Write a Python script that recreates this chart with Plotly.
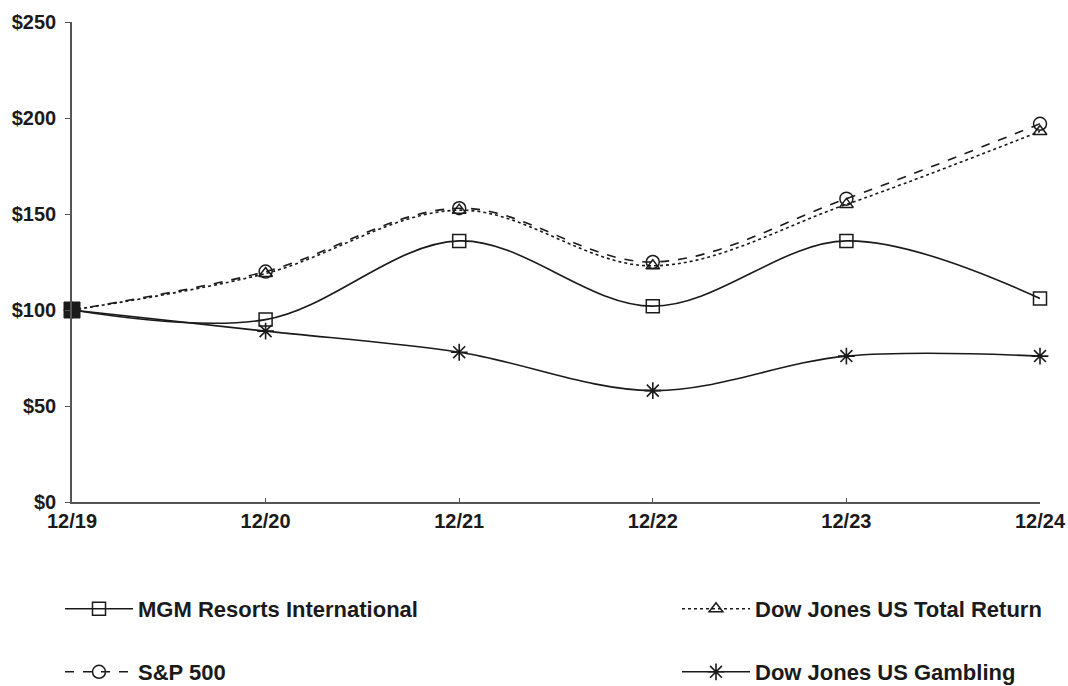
import plotly.graph_objects as go

periods = ["12/19", "12/20", "12/21", "12/22", "12/23", "12/24"]
mgm = [100, 95, 136, 102, 136, 106]
sp500 = [100, 120, 153, 125, 158, 197]
dj_total = [100, 119, 152, 123, 155, 193]
dj_gambling = [100, 89, 78, 58, 76, 76]
y_ticks = [0, 50, 100, 150, 200, 250]
y_tick_labels = ["$0", "$50", "$100", "$150", "$200", "$250"]

ink = "#1a1a1a"
FONT = "Liberation Sans, Arial, sans-serif"

fig = go.Figure()

fig.add_trace(go.Scatter(
    x=periods, y=dj_gambling, name="Dow Jones US Gambling", legend="legend4",
    mode="lines+markers", line=dict(color=ink, width=1.6, shape="spline"), cliponaxis=False,
    marker=dict(symbol="asterisk-open", size=14, line=dict(color=ink, width=1.6)),
))
fig.add_trace(go.Scatter(
    x=periods, y=dj_total, name="Dow Jones US Total Return", legend="legend2",
    mode="lines+markers", line=dict(color=ink, width=1.6, shape="spline", dash="dot"), cliponaxis=False,
    marker=dict(symbol="triangle-up-open", size=12, color=ink, line=dict(color=ink, width=1.5)),
))
fig.add_trace(go.Scatter(
    x=periods, y=sp500, name="S&P 500", legend="legend3",
    mode="lines+markers", line=dict(color=ink, width=1.6, shape="spline", dash="dash"), cliponaxis=False,
    marker=dict(symbol="circle-open", size=13, color=ink, line=dict(color=ink, width=1.5)),
))
fig.add_trace(go.Scatter(
    x=periods, y=mgm, name="MGM Resorts International", legend="legend",
    mode="lines+markers", line=dict(color=ink, width=1.6, shape="spline"), cliponaxis=False,
    marker=dict(symbol="square-open", size=13, color=ink, line=dict(color=ink, width=1.5)),
))
# common starting point, drawn as a solid block where all series meet
fig.add_trace(go.Scatter(
    x=periods[:1], y=mgm[:1], mode="markers", showlegend=False, hoverinfo="skip", cliponaxis=False,
    marker=dict(symbol="square", size=16, color=ink, line=dict(color=ink, width=1)),
))


def leg(x_px, y_px):
    return dict(
        orientation="h", xref="container", yref="container",
        x=x_px / 1068, y=1 - y_px / 686,
        xanchor="left", yanchor="middle", itemwidth=68,
        font=dict(family=FONT, size=22, color=ink, weight="bold"),
        bgcolor="rgba(0,0,0,0)", itemclick=False,
    )


fig.update_layout(
    width=1068, height=686,
    margin=dict(l=72, r=28, t=22, b=184),
    paper_bgcolor="white", plot_bgcolor="white",
    font=dict(family=FONT, size=20, color=ink, weight="bold"),
    showlegend=True,
    legend=leg(60, 609),
    legend2=leg(677, 609),
    legend3=leg(60, 672),
    legend4=leg(677, 672),
    xaxis=dict(
        type="category", range=[0, 5], showgrid=False, zeroline=False, automargin=False,
        showline=True, linecolor="#555", linewidth=1.5,
        ticks="inside", ticklen=4, tickcolor="#555",
        tickfont=dict(family=FONT, size=20, color=ink, weight="bold"),
    ),
    yaxis=dict(
        range=[0, 250], tickvals=y_ticks, ticktext=y_tick_labels, automargin=False,
        showgrid=False, zeroline=False, showline=True, linecolor="#555", linewidth=1.5,
        ticks="outside", ticklen=5, tickcolor="#555", ticklabelstandoff=5,
        tickfont=dict(family=FONT, size=20, color=ink, weight="bold"),
    ),
)

fig.write_html("out.html")
